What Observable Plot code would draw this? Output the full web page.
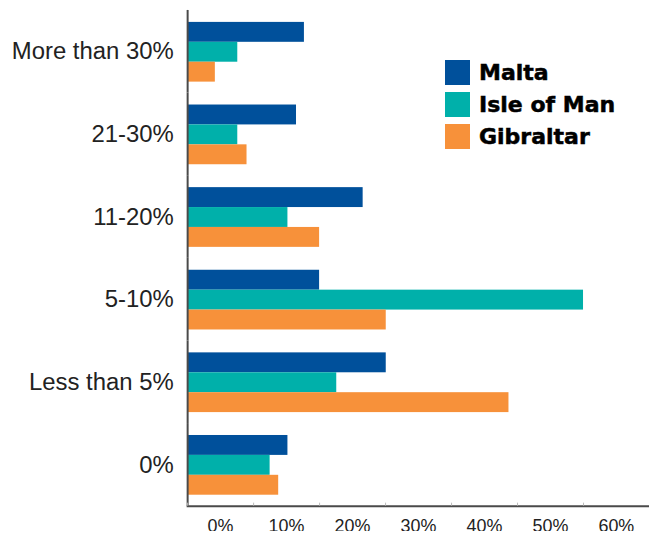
<!DOCTYPE html>
<html>
<head>
<meta charset="utf-8">
<script src="https://cdn.jsdelivr.net/npm/d3@7"></script>
<script src="https://cdn.jsdelivr.net/npm/@observablehq/plot@0.6"></script>
<style>
  html, body { margin: 0; padding: 0; background: #fff; overflow: hidden; }
  #wrap { position: relative; width: 649px; height: 533px; overflow: hidden; }
  #legend { position: absolute; left: 445px; top: 60px; font-family: "DejaVu Sans", sans-serif; font-weight: bold; font-size: 22px; color: #000; -webkit-text-stroke: 0.5px #000; }
  .sw { display: flex; align-items: center; height: 25px; margin-bottom: 7px; }
  .sw span.box { width: 25px; height: 25px; margin-right: 9px; flex: none; }
</style>
</head>
<body>
<div id="wrap"><div id="legend"></div></div>
<script>
const categories = ["More than 30%", "21-30%", "11-20%", "5-10%", "Less than 5%", "0%"];
const seriesNames = ["Malta", "Isle of Man", "Gibraltar"];
const malta      = [17.7, 16.5, 26.6, 20.0, 30.1, 15.2];
const isleOfMan  = [7.6, 7.6, 15.2, 60.0, 22.6, 12.5];
const gibraltar  = [4.2, 9.0, 20.0, 30.1, 48.7, 13.8];
const xTicks = [0, 10, 20, 30, 40, 50, 60];
const colors = ["#00509b", "#00b0aa", "#f7913a"];

const seriesValues = [malta, isleOfMan, gibraltar];
const data = categories.flatMap((c, i) =>
  seriesNames.map((s, j) => ({category: c, series: s, value: seriesValues[j][i]}))
);

const axisColor = "#4a4a4a";

const chart = Plot.plot({
  width: 652,
  height: 533,
  marginLeft: 188,
  marginRight: 0,
  marginTop: 10,
  marginBottom: 25,
  style: {fontFamily: "'Liberation Sans', Arial, sans-serif", background: "#fff", color: "#222"},
  x: {domain: [0, 70], axis: null},
  fy: {domain: categories, padding: 0, axis: null},
  y: {domain: seriesNames, paddingInner: 0, paddingOuter: 0.5, axis: null},
  color: {domain: seriesNames, range: colors},
  marks: [
    Plot.barX(data, {fy: "category", y: "series", x: "value", fill: "series"}),
    Plot.ruleX([0], {stroke: axisColor, strokeWidth: 2}),
    Plot.frame({anchor: "bottom", facetAnchor: "bottom", stroke: axisColor, strokeWidth: 2}),
    Plot.axisX({ticks: xTicks, tickSize: -3, stroke: "#bbb", tickFormat: () => "", label: null}),
    Plot.axisX({ticks: xTicks, tickSize: 0, tickPadding: 13, dx: 33, fontSize: 18, fill: "#222",
                tickFormat: d => d + "%", label: null}),
    Plot.axisFy({anchor: "left", tickSize: 0, tickPadding: 14, fontSize: 24, fill: "#222", label: null})
  ]
});

const wrap = document.getElementById("wrap");
wrap.insertBefore(chart, wrap.firstChild);

const legend = document.getElementById("legend");
seriesNames.forEach((s, j) => {
  const row = document.createElement("div");
  row.className = "sw";
  const box = document.createElement("span");
  box.className = "box";
  box.style.background = colors[j];
  const label = document.createElement("span");
  label.textContent = s;
  row.appendChild(box);
  row.appendChild(label);
  legend.appendChild(row);
});
</script>
</body>
</html>
